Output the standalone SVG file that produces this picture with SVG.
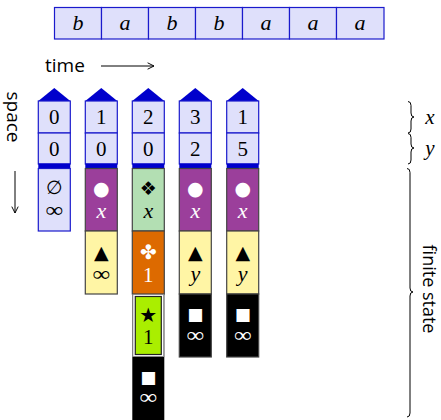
<svg xmlns="http://www.w3.org/2000/svg" width="441" height="420" viewBox="0 0 441 420">
<style>
.tape{fill:#dfe0fb;stroke:#1a1acc;stroke-width:1.2}
.sv{font-family:"Liberation Serif",serif;font-size:21px;text-anchor:middle}
.var{font-family:"Liberation Serif",serif;font-style:italic;font-size:22px;text-anchor:middle}
.num{font-family:"Liberation Serif",serif;font-size:21px;text-anchor:middle}
.sym{font-family:"DejaVu Sans",sans-serif;font-size:19px;text-anchor:middle}
.lbl{font-family:"Open Sans",sans-serif;font-size:19px}
.reg{fill:#dfe0fb;stroke:#1a1acc;stroke-width:1.2}
.cap{fill:#0000cc}
.st{stroke:#444;stroke-width:1.2}
.w{fill:#fff}
.k{fill:#000}
.brace{fill:none;stroke:#000;stroke-width:1}
</style>
<defs>
<marker id="ah" viewBox="0 0 10 10" refX="9" refY="5" markerWidth="8" markerHeight="8" markerUnits="userSpaceOnUse" orient="auto"><path d="M1,1 L9,5 L1,9" fill="none" stroke="#000" stroke-width="1.2"/></marker>
</defs>
<g id="tape">
<rect class="tape" x="54.5" y="7.5" width="47" height="31.5"/>
<rect class="tape" x="101.5" y="7.5" width="47" height="31.5"/>
<rect class="tape" x="148.5" y="7.5" width="47" height="31.5"/>
<rect class="tape" x="195.5" y="7.5" width="47" height="31.5"/>
<rect class="tape" x="242.5" y="7.5" width="47" height="31.5"/>
<rect class="tape" x="289.5" y="7.5" width="47" height="31.5"/>
<rect class="tape" x="336.5" y="7.5" width="47.5" height="31.5"/>
<text class="var" x="78" y="30">b</text>
<text class="var" x="125" y="30">a</text>
<text class="var" x="172" y="30">b</text>
<text class="var" x="219" y="30">b</text>
<text class="var" x="266" y="30">a</text>
<text class="var" x="313" y="30">a</text>
<text class="var" x="360" y="30">a</text>
</g>
<g id="labels">
<text class="lbl" x="45" y="72">time</text>
<text class="lbl" transform="translate(7,117) rotate(90)" text-anchor="middle">space</text>
<text class="lbl" transform="translate(423,289) rotate(90)" text-anchor="middle" style="font-size:18px">finite state</text>
<text class="var" x="430" y="124" style="font-size:21px">x</text>
<text class="var" x="430" y="155" style="font-size:21px">y</text>
</g>
<g id="connectors">
<line x1="101" y1="66" x2="154" y2="66" stroke="#000" stroke-width="1" marker-end="url(#ah)"/>
<line x1="15" y1="171" x2="15" y2="213" stroke="#000" stroke-width="1" marker-end="url(#ah)"/>
<path class="brace" d="M408,101.5 q3,0 3,4 L411,113 q0,4 3,4 q-3,0 -3,4 L411,129 q0,4 -3,4"/>
<path class="brace" d="M408,133.5 q3,0 3,4 L411,144 q0,4 3,4 q-3,0 -3,4 L411,160 q0,4 -3,4"/>
<path class="brace" d="M407,168.5 q3,0 3,4 L410,288 q0,4 3,4 q-3,0 -3,4 L410,413 q0,4 -3,4"/>
</g>
<g id="col1">
<polygon class="cap" points="38.3,101 54.3,88 70.3,101"/>
<rect class="reg" x="38.3" y="101" width="32" height="32"/>
<rect class="reg" x="38.3" y="133" width="32" height="31"/>
<rect class="cap" x="38.3" y="163.5" width="32" height="5"/>
<rect class="reg" x="38.3" y="168.5" width="32" height="62.5"/>
<text class="num" x="54.3" y="124">0</text>
<text class="num" x="54.3" y="156">0</text>
<text class="num" x="54.3" y="194" style="font-size:19px">∅</text>
<text class="sv" x="54.3" y="217" textLength="18" lengthAdjust="spacingAndGlyphs">∞</text>
</g>
<g id="col2">
<polygon class="cap" points="85.3,101 101.3,88 117.3,101"/>
<rect class="reg" x="85.3" y="101" width="32" height="32"/>
<rect class="reg" x="85.3" y="133" width="32" height="31"/>
<rect class="cap" x="85.3" y="163.5" width="32" height="5"/>
<rect class="st" fill="#9b3f9b" x="85.3" y="168.5" width="32" height="62.5"/>
<rect class="st" fill="#fff5a5" x="85.3" y="231" width="32" height="63"/>
<text class="num" x="101.3" y="124">1</text>
<text class="num" x="101.3" y="156">0</text>
<text class="sym w" x="101.3" y="195">●</text>
<text class="var w" x="101.3" y="218">x</text>
<text class="sym k" x="101.3" y="259">▲</text>
<text class="sv k" x="101.3" y="281" textLength="18" lengthAdjust="spacingAndGlyphs">∞</text>
</g>
<g id="col3">
<polygon class="cap" points="132.3,101 148.3,88 164.3,101"/>
<rect class="reg" x="132.3" y="101" width="32" height="32"/>
<rect class="reg" x="132.3" y="133" width="32" height="31"/>
<rect class="cap" x="132.3" y="163.5" width="32" height="5"/>
<rect class="st" fill="#b3dfb3" x="132.3" y="168.5" width="32" height="62.5"/>
<rect class="st" fill="#dd6a00" x="132.3" y="231" width="32" height="63"/>
<rect fill="#000" x="132.3" y="294" width="32" height="126"/>
<rect fill="#fff" stroke="#888" stroke-width="1" x="132.8" y="294.5" width="31" height="62"/>
<rect fill="#aaee00" stroke="#222" stroke-width="1.2" x="135.3" y="296.5" width="26" height="58"/>
<text class="num" x="148.3" y="124">2</text>
<text class="num" x="148.3" y="156">0</text>
<text class="sym k" x="148.3" y="195">❖</text>
<text class="var k" x="148.3" y="218">x</text>
<text class="sym w" x="148.3" y="259" style="font-size:20px">✤</text>
<text class="num w" x="148.3" y="282">1</text>
<text class="sym k" x="148.3" y="322" style="font-size:20px">★</text>
<text class="num k" x="148.3" y="344">1</text>
<text class="sym w" x="148.3" y="383" style="font-size:17px">■</text>
<text class="sv w" x="148.3" y="404" textLength="18" lengthAdjust="spacingAndGlyphs">∞</text>
</g>
<g id="col4">
<polygon class="cap" points="179.3,101 195.3,88 211.3,101"/>
<rect class="reg" x="179.3" y="101" width="32" height="32"/>
<rect class="reg" x="179.3" y="133" width="32" height="31"/>
<rect class="cap" x="179.3" y="163.5" width="32" height="5"/>
<rect class="st" fill="#9b3f9b" x="179.3" y="168.5" width="32" height="62.5"/>
<rect class="st" fill="#fff5a5" x="179.3" y="231" width="32" height="63"/>
<rect class="st" fill="#000" x="179.3" y="294" width="32" height="63"/>
<text class="num" x="195.3" y="124">3</text>
<text class="num" x="195.3" y="156">2</text>
<text class="sym w" x="195.3" y="195">●</text>
<text class="var w" x="195.3" y="218">x</text>
<text class="sym k" x="195.3" y="259">▲</text>
<text class="var k" x="195.3" y="281">y</text>
<text class="sym w" x="195.3" y="320" style="font-size:17px">■</text>
<text class="sv w" x="195.3" y="342" textLength="18" lengthAdjust="spacingAndGlyphs">∞</text>
</g>
<g id="col5">
<polygon class="cap" points="226.7,101 242.7,88 258.7,101"/>
<rect class="reg" x="226.7" y="101" width="32" height="32"/>
<rect class="reg" x="226.7" y="133" width="32" height="31"/>
<rect class="cap" x="226.7" y="163.5" width="32" height="5"/>
<rect class="st" fill="#9b3f9b" x="226.7" y="168.5" width="32" height="62.5"/>
<rect class="st" fill="#fff5a5" x="226.7" y="231" width="32" height="63"/>
<rect class="st" fill="#000" x="226.7" y="294" width="32" height="63"/>
<text class="num" x="242.7" y="124">1</text>
<text class="num" x="242.7" y="156">5</text>
<text class="sym w" x="242.7" y="195">●</text>
<text class="var w" x="242.7" y="218">x</text>
<text class="sym k" x="242.7" y="259">▲</text>
<text class="var k" x="242.7" y="281">y</text>
<text class="sym w" x="242.7" y="320" style="font-size:17px">■</text>
<text class="sv w" x="242.7" y="342" textLength="18" lengthAdjust="spacingAndGlyphs">∞</text>
</g>
</svg>
